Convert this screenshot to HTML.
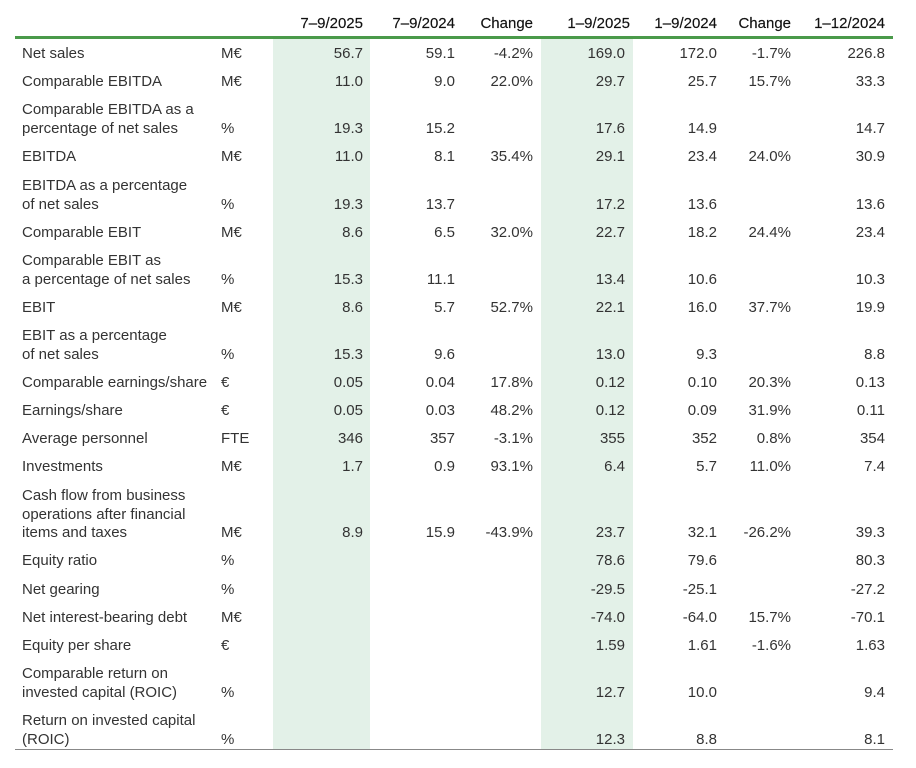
<!DOCTYPE html>
<html><head><meta charset="utf-8"><style>
body{margin:0;width:916px;height:768px;background:#fff;position:relative;overflow:hidden;font-family:"Liberation Sans",sans-serif;font-size:15px;color:#333}
.sh{position:absolute;top:38px;height:712px;background:#e3f1e8}
.w{position:absolute;left:0;top:2px;width:916px;height:760px}
.r{position:absolute;left:0;width:916px;height:18px;line-height:18px}
.r span{position:absolute;white-space:nowrap}
.l{left:22px}.u{left:221px}
.a,.b,.c,.d,.e,.f,.g{width:100px;text-align:right}
.a{left:263px}.b{left:355px}.c{left:433px}.d{left:525px}.e{left:617px}.f{left:691px}.g{left:785px}
.h{color:#111;-webkit-text-stroke:0.15px #111}
</style></head><body>
<div class="sh" style="left:273px;width:97px"></div>
<div class="sh" style="left:541px;width:92px"></div>
<div style="position:absolute;left:15px;top:36px;width:878px;height:3px;background:#4a9a4a"></div>
<div style="position:absolute;left:15px;top:749px;width:878px;height:1px;background:#888"></div>
<div class="w">
<div class="r h" style="top:13px"><span class="a">7–9/2025</span><span class="b">7–9/2024</span><span class="c">Change</span><span class="d" style="left:530px">1–9/2025</span><span class="e">1–9/2024</span><span class="f">Change</span><span class="g">1–12/2024</span></div>

<div class="r" style="top:43px"><span class="l">Net sales</span><span class="u">M€</span><span class="a">56.7</span><span class="b">59.1</span><span class="c">-4.2%</span><span class="d">169.0</span><span class="e">172.0</span><span class="f">-1.7%</span><span class="g">226.8</span></div>
<div class="r" style="top:71px"><span class="l">Comparable EBITDA</span><span class="u">M€</span><span class="a">11.0</span><span class="b">9.0</span><span class="c">22.0%</span><span class="d">29.7</span><span class="e">25.7</span><span class="f">15.7%</span><span class="g">33.3</span></div>
<div class="r" style="top:99px"><span class="l">Comparable EBITDA as a</span></div>
<div class="r" style="top:118px"><span class="l">percentage of net sales</span><span class="u">%</span><span class="a">19.3</span><span class="b">15.2</span><span class="d">17.6</span><span class="e">14.9</span><span class="g">14.7</span></div>
<div class="r" style="top:146px"><span class="l">EBITDA</span><span class="u">M€</span><span class="a">11.0</span><span class="b">8.1</span><span class="c">35.4%</span><span class="d">29.1</span><span class="e">23.4</span><span class="f">24.0%</span><span class="g">30.9</span></div>
<div class="r" style="top:175px"><span class="l">EBITDA as a percentage</span></div>
<div class="r" style="top:194px"><span class="l">of net sales</span><span class="u">%</span><span class="a">19.3</span><span class="b">13.7</span><span class="d">17.2</span><span class="e">13.6</span><span class="g">13.6</span></div>
<div class="r" style="top:222px"><span class="l">Comparable EBIT</span><span class="u">M€</span><span class="a">8.6</span><span class="b">6.5</span><span class="c">32.0%</span><span class="d">22.7</span><span class="e">18.2</span><span class="f">24.4%</span><span class="g">23.4</span></div>
<div class="r" style="top:250px"><span class="l">Comparable EBIT as</span></div>
<div class="r" style="top:269px"><span class="l">a percentage of net sales</span><span class="u">%</span><span class="a">15.3</span><span class="b">11.1</span><span class="d">13.4</span><span class="e">10.6</span><span class="g">10.3</span></div>
<div class="r" style="top:297px"><span class="l">EBIT</span><span class="u">M€</span><span class="a">8.6</span><span class="b">5.7</span><span class="c">52.7%</span><span class="d">22.1</span><span class="e">16.0</span><span class="f">37.7%</span><span class="g">19.9</span></div>
<div class="r" style="top:325px"><span class="l">EBIT as a percentage</span></div>
<div class="r" style="top:344px"><span class="l">of net sales</span><span class="u">%</span><span class="a">15.3</span><span class="b">9.6</span><span class="d">13.0</span><span class="e">9.3</span><span class="g">8.8</span></div>
<div class="r" style="top:372px"><span class="l">Comparable earnings/share</span><span class="u">€</span><span class="a">0.05</span><span class="b">0.04</span><span class="c">17.8%</span><span class="d">0.12</span><span class="e">0.10</span><span class="f">20.3%</span><span class="g">0.13</span></div>
<div class="r" style="top:400px"><span class="l">Earnings/share</span><span class="u">€</span><span class="a">0.05</span><span class="b">0.03</span><span class="c">48.2%</span><span class="d">0.12</span><span class="e">0.09</span><span class="f">31.9%</span><span class="g">0.11</span></div>
<div class="r" style="top:428px"><span class="l">Average personnel</span><span class="u">FTE</span><span class="a">346</span><span class="b">357</span><span class="c">-3.1%</span><span class="d">355</span><span class="e">352</span><span class="f">0.8%</span><span class="g">354</span></div>
<div class="r" style="top:456px"><span class="l">Investments</span><span class="u">M€</span><span class="a">1.7</span><span class="b">0.9</span><span class="c">93.1%</span><span class="d">6.4</span><span class="e">5.7</span><span class="f">11.0%</span><span class="g">7.4</span></div>
<div class="r" style="top:485px"><span class="l">Cash flow from business</span></div>
<div class="r" style="top:504px"><span class="l">operations after financial</span></div>
<div class="r" style="top:522px"><span class="l">items and taxes</span><span class="u">M€</span><span class="a">8.9</span><span class="b">15.9</span><span class="c">-43.9%</span><span class="d">23.7</span><span class="e">32.1</span><span class="f">-26.2%</span><span class="g">39.3</span></div>
<div class="r" style="top:550px"><span class="l">Equity ratio</span><span class="u">%</span><span class="d">78.6</span><span class="e">79.6</span><span class="g">80.3</span></div>
<div class="r" style="top:579px"><span class="l">Net gearing</span><span class="u">%</span><span class="d">-29.5</span><span class="e">-25.1</span><span class="g">-27.2</span></div>
<div class="r" style="top:607px"><span class="l">Net interest-bearing debt</span><span class="u">M€</span><span class="d">-74.0</span><span class="e">-64.0</span><span class="f">15.7%</span><span class="g">-70.1</span></div>
<div class="r" style="top:635px"><span class="l">Equity per share</span><span class="u">€</span><span class="d">1.59</span><span class="e">1.61</span><span class="f">-1.6%</span><span class="g">1.63</span></div>
<div class="r" style="top:663px"><span class="l">Comparable return on</span></div>
<div class="r" style="top:682px"><span class="l">invested capital (ROIC)</span><span class="u">%</span><span class="d">12.7</span><span class="e">10.0</span><span class="g">9.4</span></div>
<div class="r" style="top:710px"><span class="l">Return on invested capital</span></div>
<div class="r" style="top:729px"><span class="l">(ROIC)</span><span class="u">%</span><span class="d">12.3</span><span class="e">8.8</span><span class="g">8.1</span></div>
</div>
</body></html>
